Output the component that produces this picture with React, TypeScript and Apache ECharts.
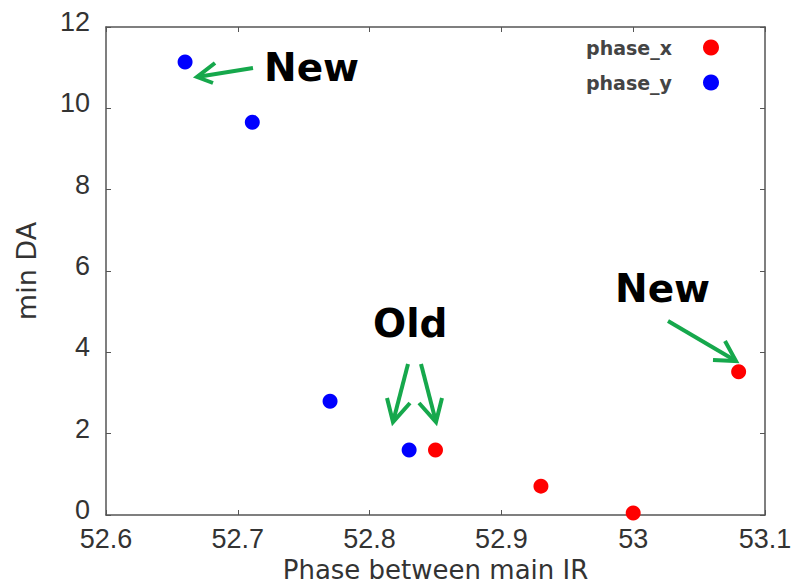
import React, { useEffect, useRef } from "react";
import * as echarts from "echarts";

// phase between main IR vs. minimum dynamic aperture
const phaseX = [52.85, 52.93, 53.0, 53.08];
const minDaX = [1.6, 0.71, 0.05, 3.52];
const phaseY = [52.66, 52.711, 52.77, 52.83];
const minDaY = [11.14, 9.66, 2.8, 1.6];

const seriesNames = ["phase_x", "phase_y"];
const xName = "Phase between main IR";
const yName = "min DA";

const AXIS_FONT = "DejaVu Sans";
const TICK_FONT = "Liberation Sans";
const ANNOT_FONT = "DejaVu Sans";
const GREEN = "#16a84c";

const frameAxis = {
  axisLine: { show: true, onZero: false, lineStyle: { color: "#555", width: 1.5 } },
  axisTick: { show: true, inside: true, length: 5, lineStyle: { color: "#555", width: 1 } },
  splitLine: { show: false },
};

const arrow = (pts: number[][], head: number[][]) => [
  {
    type: "polyline",
    shape: { points: pts },
    style: { stroke: GREEN, lineWidth: 4, fill: null },
    silent: true,
  },
  {
    type: "polyline",
    shape: { points: head },
    style: { stroke: GREEN, lineWidth: 4, fill: null, lineJoin: "miter" },
    silent: true,
  },
];

const label = (text: string, x: number, y: number) => ({
  type: "text",
  x,
  y,
  style: {
    text,
    fill: "#000",
    font: `bold 39px "${ANNOT_FONT}"`,
    textAlign: "left",
    textVerticalAlign: "middle",
  },
  silent: true,
});

export default function App() {
  const ref = useRef<HTMLDivElement>(null);

  useEffect(() => {
    if (!ref.current) return;
    const chart = echarts.init(ref.current, null, { renderer: "svg" });
    chart.setOption({
      animation: false,
      backgroundColor: "#fff",
      grid: { left: 106, right: 27, top: 27, bottom: 67, outerBoundsMode: "none" },
      legend: {
        data: seriesNames,
        orient: "vertical",
        right: 68,
        top: 33,
        align: "right",
        icon: "circle",
        itemWidth: 16,
        itemHeight: 16,
        itemGap: 16,
        textStyle: {
          fontFamily: AXIS_FONT,
          fontSize: 19,
          fontWeight: "bold",
          color: "#444",
          padding: [0, 26, 0, 0],
        },
      },
      xAxis: [
        {
          type: "value",
          min: 52.6,
          max: 53.1,
          interval: 0.1,
          position: "bottom",
          name: xName,
          nameLocation: "middle",
          nameGap: 33,
          nameTextStyle: { fontFamily: AXIS_FONT, fontSize: 26, lineHeight: 20, color: "#333" },
          axisLabel: {
            fontFamily: TICK_FONT,
            fontSize: 27,
            lineHeight: 20,
            color: "#333",
            margin: 14,
            showMinLabel: true,
            showMaxLabel: true,
          },
          ...frameAxis,
        },
        {
          type: "value",
          min: 52.6,
          max: 53.1,
          interval: 0.1,
          position: "top",
          axisLabel: { show: false },
          ...frameAxis,
        },
      ],
      yAxis: [
        {
          type: "value",
          min: 0,
          max: 12,
          interval: 2,
          position: "left",
          name: yName,
          nameLocation: "middle",
          nameGap: 66,
          nameTextStyle: { fontFamily: AXIS_FONT, fontSize: 27, color: "#333" },
          axisLabel: {
            fontFamily: TICK_FONT,
            fontSize: 27,
            lineHeight: 10,
            verticalAlign: "bottom",
            color: "#333",
            margin: 16,
          },
          ...frameAxis,
        },
        {
          type: "value",
          min: 0,
          max: 12,
          interval: 2,
          position: "right",
          axisLabel: { show: false },
          ...frameAxis,
        },
      ],
      series: [
        {
          name: seriesNames[0],
          type: "scatter",
          xAxisIndex: 0,
          yAxisIndex: 0,
          symbolSize: 15,
          itemStyle: { color: "#ff0000", opacity: 1 },
          data: phaseX.map((p, i) => [p, minDaX[i]]),
        },
        {
          name: seriesNames[1],
          type: "scatter",
          xAxisIndex: 0,
          yAxisIndex: 0,
          symbolSize: 15,
          itemStyle: { color: "#0000ff", opacity: 1 },
          data: phaseY.map((p, i) => [p, minDaY[i]]),
        },
      ],
      graphic: [
        label("New", 264, 67),
        label("Old", 373, 323),
        label("New", 615, 288),
        ...arrow(
          [
            [253, 68],
            [197, 77],
          ],
          [
            [215, 63],
            [197, 77],
            [213, 83],
          ]
        ),
        ...arrow(
          [
            [408, 364],
            [393, 422],
          ],
          [
            [387, 398],
            [393, 422],
            [410, 403],
          ]
        ),
        ...arrow(
          [
            [421, 364],
            [436, 422],
          ],
          [
            [419, 403],
            [436, 422],
            [442, 398],
          ]
        ),
        ...arrow(
          [
            [668, 321],
            [736, 361],
          ],
          [
            [725, 341],
            [736, 361],
            [713, 360],
          ]
        ),
      ],
    });
    return () => chart.dispose();
  }, []);

  return (
    <div
      ref={ref}
      style={{ position: "fixed", left: 0, top: 0, width: 792, height: 582 }}
    />
  );
}
